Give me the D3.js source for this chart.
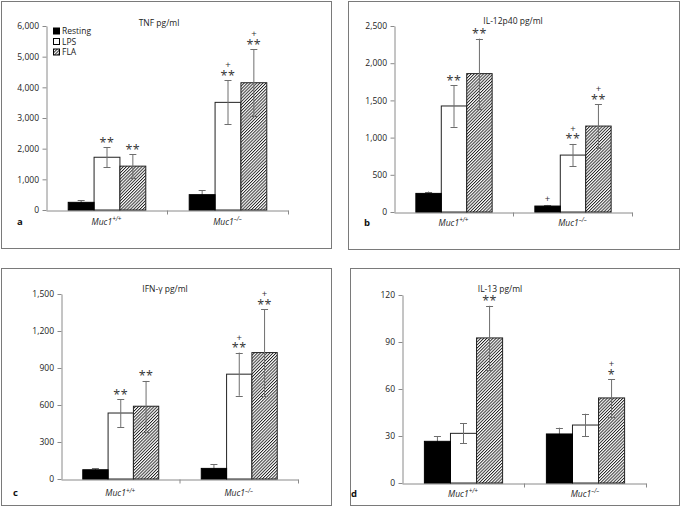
<!DOCTYPE html>
<html><head><meta charset="utf-8">
<script src="https://cdn.jsdelivr.net/npm/d3@7"></script>
<style>
body{margin:0;background:#fff}
svg{display:block;font-family:"Open Sans",sans-serif}
</style></head>
<body><svg id="c" width="680" height="516"></svg>
<script>
// ---- data ----
const groups = ["Muc1", "Muc1"];
const groupSup = ["+/+", "\u2013/\u2013"];
const conditions = ["Resting", "LPS", "FLA"];

const tnfTitle = "TNF pg/ml";
const tnfTicks = [0, 1000, 2000, 3000, 4000, 5000, 6000];
const tnfMean = [[250, 1720, 1430], [500, 3510, 4150]];
const tnfErr  = [[65, 330, 380], [140, 715, 1090]];
const tnfStars = [["", "**", "**"], ["", "**", "**"]];
const tnfPlus  = [["", "", ""], ["", "+", "+"]];

const il12Title = "IL-12p40 pg/ml";
const il12Ticks = [0, 500, 1000, 1500, 2000, 2500];
const il12Mean = [[250, 1425, 1860], [80, 765, 1155]];
const il12Err  = [[25, 280, 470], [15, 150, 295]];
const il12Stars = [["", "**", "**"], ["", "**", "**"]];
const il12Plus  = [["", "", ""], ["+", "+", "+"]];

const ifnTitle = "IFN-\u03b3 pg/ml";
const ifnTicks = [0, 300, 600, 900, 1200, 1500];
const ifnMean = [[75, 535, 590], [86, 850, 1025]];
const ifnErr  = [[12, 113, 205], [35, 175, 350]];
const ifnStars = [["", "**", "**"], ["", "**", "**"]];
const ifnPlus  = [["", "", ""], ["", "+", "+"]];

const il13Title = "IL-13 pg/ml";
const il13Ticks = [0, 30, 60, 90, 120];
const il13Mean = [[26.6, 31.7, 92.6], [31.3, 37, 54.3]];
const il13Err  = [[3.4, 6.3, 20.5], [4, 7.2, 12]];
const il13Stars = [["", "", "**"], ["", "", "*"]];
const il13Plus  = [["", "", ""], ["", "", "+"]];

const panelLetters = ["a", "b", "c", "d"];

// ---- layout ----
const panels = [
  {letter: panelLetters[0], title: tnfTitle, ticks: tnfTicks, mean: tnfMean, err: tnfErr, stars: tnfStars, plus: tnfPlus,
   box: [1, 1, 331, 248], px: [46, 288], py: [26, 210], titleX: 159, titleY: 26, letterX: 17, labY: 224.5, legend: true},
  {letter: panelLetters[1], title: il12Title, ticks: il12Ticks, mean: il12Mean, err: il12Err, stars: il12Stars, plus: il12Plus,
   box: [348, 1, 679, 249], px: [394, 632], py: [26, 212], titleX: 513, titleY: 24, letterX: 364, labY: 225.5},
  {letter: panelLetters[2], title: ifnTitle, ticks: ifnTicks, mean: ifnMean, err: ifnErr, stars: ifnStars, plus: ifnPlus,
   box: [1, 268, 331, 505], px: [61, 298], py: [294, 479], titleX: 165, titleY: 291.5, letterX: 13, labY: 496},
  {letter: panelLetters[3], title: il13Title, ticks: il13Ticks, mean: il13Mean, err: il13Err, stars: il13Stars, plus: il13Plus,
   box: [350, 268, 679, 505], px: [402, 646], py: [295, 483], titleX: 500, titleY: 291.5, letterX: 351, labY: 496.5}
];

const svg = d3.select("#c");
const defs = svg.append("defs");
const pat = defs.append("pattern").attr("id", "hatch").attr("patternUnits", "userSpaceOnUse")
  .attr("width", 2.2).attr("height", 6).attr("patternTransform", "rotate(45)");
pat.append("rect").attr("width", 2.2).attr("height", 6).attr("fill", "#fff");
pat.append("line").attr("x1", 0.5).attr("y1", 0).attr("x2", 0.5).attr("y2", 6)
  .attr("stroke", "#000").attr("stroke-width", 0.8);

const fills = ["#000", "#fff", "url(#hatch)"];
const axisColor = "#8a8a8a";
const errColor = "#6e6e6e";

panels.forEach(p => {
  const g = svg.append("g");
  const [bx0, by0, bx1, by1] = p.box;
  g.append("rect").attr("x", bx0 + 0.5).attr("y", by0 + 0.5).attr("width", bx1 - bx0).attr("height", by1 - by0)
    .attr("fill", "none").attr("stroke", "#7a7a7a").attr("stroke-width", 1);

  const y = d3.scaleLinear().domain([0, d3.max(p.ticks)]).range([p.py[1], p.py[0]]);
  const x0 = d3.scaleBand().domain([0, 1]).range(p.px).paddingInner(0).paddingOuter(0);
  const x1 = d3.scaleBand().domain(conditions).range([0, x0.bandwidth()]).paddingInner(0).paddingOuter(0.84);
  const xb = d3.scaleLinear().domain([0, 2]).range(p.px);

  // axes
  const ya = g.append("g").attr("transform", `translate(${p.px[0] + 0.5},0)`)
    .call(d3.axisLeft(y).tickValues(p.ticks).tickSize(4).tickSizeOuter(0).tickPadding(3.5).tickFormat(d3.format(",")));
  ya.selectAll("path,line").attr("stroke", axisColor);
  ya.selectAll("text").attr("font-size", 8.5).attr("fill", "#222").attr("font-family", "Open Sans");

  const xa = g.append("g").attr("transform", `translate(0,${p.py[1] + 0.5})`)
    .call(d3.axisBottom(xb).tickValues([1, 2]).tickSize(4).tickSizeOuter(0).tickFormat(""));
  xa.selectAll("path,line").attr("stroke", axisColor);

  // flat data
  const rows = [];
  p.mean.forEach((arr, gi) => arr.forEach((v, ci) => rows.push({
    gi, ci, cond: conditions[ci], v, e: p.err[gi][ci], s: p.stars[gi][ci], pl: p.plus[gi][ci]
  })));
  const bx = d => x0(d.gi) + x1(d.cond);
  const bw = x1.bandwidth();

  // non-resting bars
  g.selectAll(".bar").data(rows.filter(d => d.ci > 0)).join("rect")
    .attr("x", d => bx(d) + 0.5).attr("y", d => y(d.v))
    .attr("width", bw).attr("height", d => y(0) - y(d.v))
    .attr("fill", d => fills[d.ci]).attr("stroke", "#222").attr("stroke-width", 1);

  // error bars
  const eg = g.selectAll(".err").data(rows).join("g");
  eg.append("line").attr("x1", d => bx(d) + bw / 2 + 0.5).attr("x2", d => bx(d) + bw / 2 + 0.5)
    .attr("y1", d => y(d.v - d.e)).attr("y2", d => y(d.v + d.e)).attr("stroke", errColor).attr("stroke-width", 1);
  eg.append("line").attr("x1", d => bx(d) + bw / 2 - 3).attr("x2", d => bx(d) + bw / 2 + 4)
    .attr("y1", d => Math.round(y(d.v + d.e)) + 0.5).attr("y2", d => Math.round(y(d.v + d.e)) + 0.5)
    .attr("stroke", errColor).attr("stroke-width", 1);
  eg.filter(d => d.ci > 0).append("line").attr("x1", d => bx(d) + bw / 2 - 3).attr("x2", d => bx(d) + bw / 2 + 4)
    .attr("y1", d => Math.round(y(d.v - d.e)) + 0.5).attr("y2", d => Math.round(y(d.v - d.e)) + 0.5)
    .attr("stroke", errColor).attr("stroke-width", 1);

  // resting bars (drawn on top)
  g.selectAll(".rbar").data(rows.filter(d => d.ci === 0)).join("rect")
    .attr("x", d => bx(d) + 0.5).attr("y", d => y(d.v))
    .attr("width", bw).attr("height", d => y(0) - y(d.v))
    .attr("fill", "#000").attr("stroke", "#000").attr("stroke-width", 1);

  // significance marks: one text element per bar, plus stacked above stars
  rows.filter(d => d.s || d.pl).forEach(d => {
    const cx = bx(d) + bw / 2 + 0.5;
    const top = y(d.v + d.e);
    const t = g.append("text").attr("text-anchor", "middle").attr("fill", "#333");
    if (d.pl) {
      t.append("tspan").attr("x", cx).attr("y", d.s ? top - 12 : top - 2.5)
        .attr("font-size", 9.5).text(d.pl);
    }
    if (d.s) {
      t.append("tspan").attr("x", cx).attr("y", top - 0.5)
        .attr("font-size", 12.5).attr("letter-spacing", 0.5).text(d.s);
    }
  });

  // title
  g.append("text").attr("x", p.titleX).attr("y", p.titleY).attr("text-anchor", "middle")
    .attr("font-size", 8.5).attr("fill", "#222").text(p.title);

  // panel letter
  g.append("text").attr("x", p.letterX).attr("y", p.labY).attr("font-size", 9.5).attr("font-weight", "bold")
    .attr("fill", "#111").text(p.letter);

  // category labels
  [0, 1].forEach(gi => {
    const t = g.append("text").attr("x", x0(gi) + x0.bandwidth() / 2).attr("y", p.labY)
      .attr("text-anchor", "middle").attr("font-size", 8.5).attr("font-style", "italic").attr("fill", "#222");
    t.append("tspan").text(groups[gi]);
    t.append("tspan").attr("font-size", 6.2).attr("dy", -3.2).text(groupSup[gi]);
  });

  // legend
  if (p.legend) {
    const lg = g.append("g");
    conditions.forEach((c, i) => {
      const ly = 31 + i * 10.5;
      lg.append("rect").attr("x", 53.5).attr("y", ly - 3).attr("width", 6).attr("height", 6)
        .attr("fill", fills[i]).attr("stroke", "#000").attr("stroke-width", 1);
      lg.append("text").attr("x", 62).attr("y", ly + 3).attr("font-size", 8.5).attr("fill", "#222").text(c);
    });
  }
});
</script>
</body></html>
